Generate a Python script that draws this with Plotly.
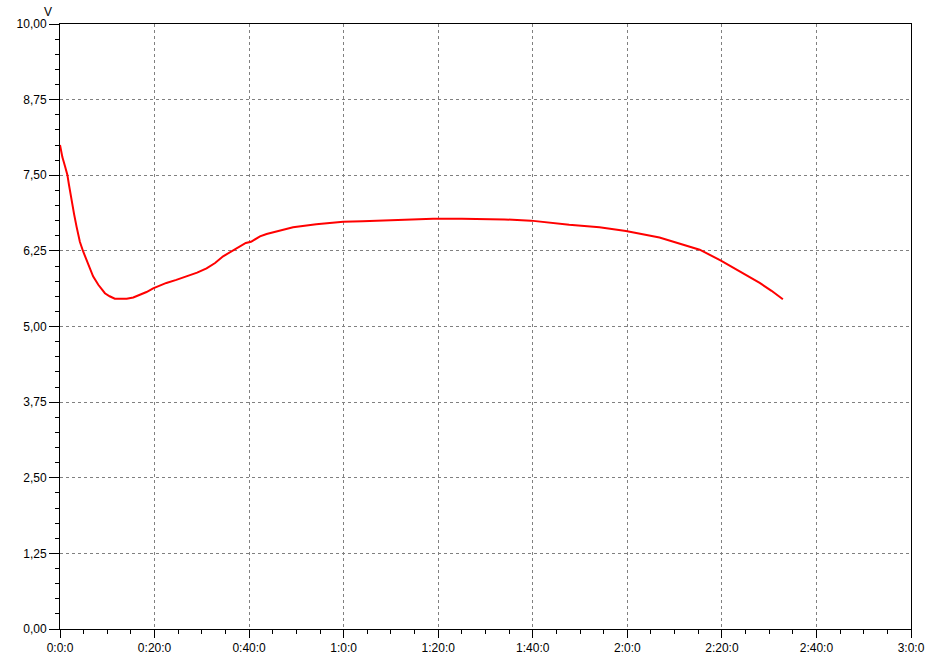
import plotly.graph_objects as go

# time in minutes, voltage in V
time_min = [0, 0.5, 1.06, 1.55, 1.9, 2.46, 3.0, 3.5, 4.2, 4.9, 6.0, 7.0, 8.1, 9.5, 10.5, 11.6,
            12.7, 14.1, 15.5, 16.9, 18.3, 19.7, 21.1, 22.5, 24.6, 26.8, 29.0, 31.0, 32.8, 34.5,
            36.3, 38.0, 39.3, 40.4, 41.2, 42.3, 43.7, 45.1, 46.5, 49.3, 54.2, 59.9, 64.0, 68.3,
            73.5, 78.9, 85.0, 88.7, 94.0, 99.6, 107.7, 114.1, 119.7, 126.8, 130.3, 135.3, 139.8,
            143.7, 148.0, 150.5, 152.9]
volts = [8.00, 7.80, 7.65, 7.51, 7.34, 7.07, 6.85, 6.65, 6.40, 6.24, 6.02, 5.83, 5.69, 5.55, 5.50,
         5.46, 5.46, 5.46, 5.48, 5.52, 5.57, 5.63, 5.68, 5.72, 5.77, 5.83, 5.89, 5.96, 6.05, 6.16,
         6.24, 6.32, 6.38, 6.40, 6.44, 6.49, 6.53, 6.56, 6.59, 6.64, 6.69, 6.73, 6.74, 6.75,
         6.77, 6.78, 6.78, 6.78, 6.77, 6.75, 6.68, 6.64, 6.58, 6.47, 6.39, 6.27, 6.09, 5.92,
         5.72, 5.59, 5.45]

x_tickvals = [0, 20, 40, 60, 80, 100, 120, 140, 160, 180]
x_ticktext = ["0:0:0", "0:20:0", "0:40:0", "1:0:0", "1:20:0", "1:40:0", "2:0:0", "2:20:0", "2:40:0", "3:0:0"]
y_tickvals = [0, 1.25, 2.5, 3.75, 5, 6.25, 7.5, 8.75, 10]
y_ticktext = ["0,00", "1,25", "2,50", "3,75", "5,00", "6,25", "7,50", "8,75", "10,00"]

FONT = dict(family="Liberation Sans, Arial, sans-serif", size=12, color="black")

fig = go.Figure()
fig.add_trace(go.Scatter(x=time_min, y=volts, mode="lines",
                         line=dict(color="#ff0000", width=2),
                         showlegend=False))

axis_common = dict(
    showline=True, linecolor="black", linewidth=1, mirror=True,
    showgrid=True, gridcolor="#808080", gridwidth=1, griddash="3px,3px",
    zeroline=False, ticks="outside", tickcolor="black", tickwidth=1,
    tickfont=FONT, automargin=False,
)

fig.update_layout(
    width=952, height=664,
    margin=dict(l=60, r=41, t=24, b=35),
    paper_bgcolor="white", plot_bgcolor="white",
    xaxis=dict(range=[0, 180], tickmode="array", tickvals=x_tickvals, ticktext=x_ticktext,
               ticklen=8, minor=dict(dtick=5, tick0=0, ticks="outside", ticklen=4,
                                     tickcolor="black", showgrid=False),
               **axis_common),
    yaxis=dict(range=[0, 10], tickmode="array", tickvals=y_tickvals, ticktext=y_ticktext,
               ticklen=10, minor=dict(dtick=0.25, tick0=0, ticks="outside", ticklen=4,
                                      tickcolor="black", showgrid=False),
               **axis_common),
    annotations=[dict(text="V", xref="x domain", yref="y domain", x=0, y=1,
                      xanchor="center", yanchor="middle", xshift=-12, yshift=12,
                      showarrow=False, font=FONT)],
)

fig.write_html("out.html", config={"displayModeBar": False},
               post_script="document.body.style.margin='0';document.body.style.overflow='hidden';")
